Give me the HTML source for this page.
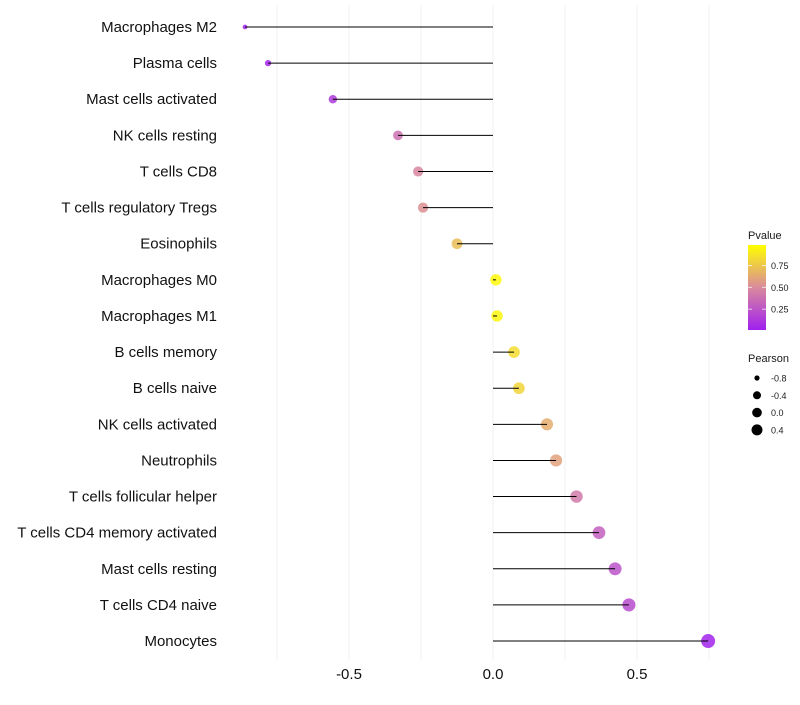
<!DOCTYPE html>
<html><head><meta charset="utf-8"><style>
body{margin:0;background:#fff;font-family:"Liberation Sans",sans-serif;}
</style></head><body>
<svg id="chart" width="800" height="700" xmlns="http://www.w3.org/2000/svg" font-family="Liberation Sans, sans-serif"></svg>
<script>
const categories=["Macrophages M2","Plasma cells","Mast cells activated","NK cells resting","T cells CD8","T cells regulatory  Tregs ","Eosinophils","Macrophages M0","Macrophages M1","B cells memory","B cells naive","NK cells activated","Neutrophils","T cells follicular helper","T cells CD4 memory activated","Mast cells resting","T cells CD4 naive","Monocytes"];
const pearson=[-0.861,-0.781,-0.556,-0.33,-0.26,-0.243,-0.125,0.01,0.014,0.073,0.09,0.1875,0.219,0.29,0.368,0.424,0.472,0.747];
const pvalues=[0.01,0.03,0.12,0.38,0.48,0.53,0.72,0.97,0.96,0.85,0.82,0.64,0.6,0.43,0.3,0.24,0.2,0.02];
const xTicks=[-0.5,0,0.5];
const xTickLabels=["-0.5","0.0","0.5"];
const gridVals=[-0.75,-0.5,-0.25,0,0.25,0.5,0.75];
const legendP=[0.25,0.5,0.75];
const legendPLabels=["0.25","0.50","0.75"];
const legendSizes=[-0.8,-0.4,0.0,0.4];
const legendSizeLabels=["-0.8","-0.4","0.0","0.4"];

const svg=document.getElementById('chart');
const NS="http://www.w3.org/2000/svg";
const x=v=>493+v*288;
const y=i=>27+i*36.12;
const r=v=>2+5*Math.sqrt(Math.max(0,(v+0.87)/1.62));
function hex(h){return [parseInt(h.slice(1,3),16),parseInt(h.slice(3,5),16),parseInt(h.slice(5,7),16)];}
const stops=[[0,hex('#A020F0')],[0.5,hex('#D98A9C')],[1,hex('#FFFF00')]];
function col(p){let a=stops[0],b=stops[1];if(p>0.5){a=stops[1];b=stops[2];}const t=(p-a[0])/(b[0]-a[0]);const c=a[1].map((v,k)=>Math.round(v+(b[1][k]-v)*t));return `rgb(${c.join(',')})`;}
function mk(tag,attrs,parent){const e=document.createElementNS(NS,tag);for(const k in attrs)e.setAttribute(k,attrs[k]);(parent||svg).appendChild(e);return e;}

gridVals.forEach(v=>{const l=mk('line',{x1:x(v),x2:x(v),y1:5,y2:660,stroke:'#f2f2f2','stroke-width':1});

});

categories.forEach((c,i)=>{
 const t=mk('text',{x:217,y:y(i)+5,'text-anchor':'end','font-size':15,fill:'#111'});t.textContent=c;
 
 
 const p=mk('circle',{cx:x(pearson[i]),cy:y(i),r:r(pearson[i]),fill:col(pvalues[i]),'fill-opacity':0.85});
 
 
 const s=mk('line',{x1:x(0),x2:x(pearson[i]),y1:y(i),y2:y(i),stroke:'#000','stroke-width':1});
 
 
});
xTicks.forEach((v,i)=>{const t=mk('text',{x:x(v),y:679,'text-anchor':'middle','font-size':15,fill:'#111'});t.textContent=xTickLabels[i];
 
 });

const lt=mk('text',{x:748,y:239,'font-size':11,fill:'#1a1a1a'});lt.textContent='Pvalue';


const defs=mk('defs',{});const g=mk('linearGradient',{id:'pg',x1:0,y1:1,x2:0,y2:0},defs);
[0,0.25,0.5,0.75,1].forEach(o=>mk('stop',{offset:o,'stop-color':col(o)},g));
const bar=mk('rect',{x:748,y:245,width:18,height:85,fill:'url(#pg)'});


const py=p=>331-p*87.5;
legendP.forEach((p,i)=>{mk('line',{x1:748,x2:752,y1:py(p),y2:py(p),stroke:'#fff','stroke-width':0.7});mk('line',{x1:762,x2:766,y1:py(p),y2:py(p),stroke:'#fff','stroke-width':0.7});
 const t=mk('text',{x:771,y:py(p)+3.5,'font-size':9,fill:'#1a1a1a'});t.textContent=legendPLabels[i];
 
 });

const st=mk('text',{x:748,y:362,'font-size':11,fill:'#1a1a1a'});st.textContent='Pearson';


legendSizes.forEach((v,i)=>{const cy=378+i*17.3;
 const c=mk('circle',{cx:757,cy:cy,r:r(v)*0.85,fill:'#000'});
 
 
 const t=mk('text',{x:771,y:cy+3.5,'font-size':9,fill:'#1a1a1a'});t.textContent=legendSizeLabels[i];
 
 });
</script>
</body></html>
